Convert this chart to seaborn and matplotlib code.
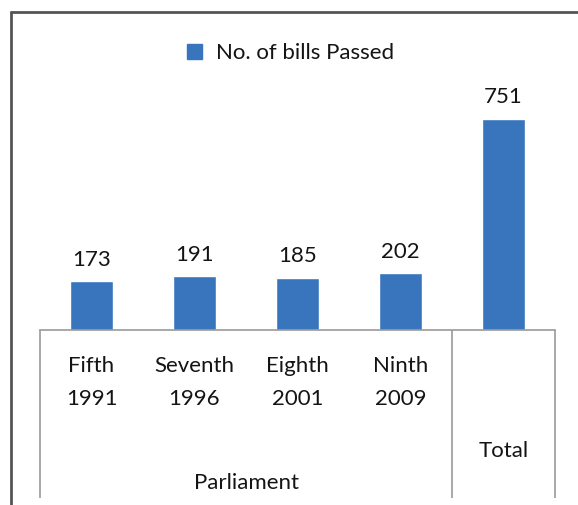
import matplotlib
matplotlib.use("Agg")
import matplotlib.pyplot as plt
import matplotlib.transforms as mtransforms
from matplotlib.lines import Line2D
import pandas as pd
import seaborn as sns

# Data
parliaments = ["Fifth", "Seventh", "Eighth", "Ninth", "Total"]
years = ["1991", "1996", "2001", "2009", ""]
bills_passed = [173, 191, 185, 202, 751]
series_name = "No. of bills Passed"
group_label = "Parliament"

df = pd.DataFrame({"parliament": parliaments, "bills": bills_passed})

sns.set_theme(style="white")
plt.rcParams["font.family"] = ["Lato", "DejaVu Sans"]

W, H = 578, 506
fig = plt.figure(figsize=(W / 100, H / 100), dpi=100)
fig.patch.set_facecolor("white")

def fx(px):
    return px / W

def fy(py):
    return 1 - py / H

ymax = 800
ax_left, ax_right, ax_bottom = 40, 555, 331
ax_height_px = 225
ax = fig.add_axes([fx(ax_left), fy(ax_bottom), fx(ax_right - ax_left), ax_height_px / H])

bar_color = "#3875bd"
sns.barplot(data=df, x="parliament", y="bills", color=bar_color, width=0.41,
            saturation=1, ax=ax)
ax.set_xlim(-0.5, len(parliaments) - 0.5)
ax.set_ylim(0, ymax)
ax.set_xlabel("")
ax.set_ylabel("")
ax.set_yticks([])
ax.set_xticks([])
for side in ["top", "right", "left"]:
    ax.spines[side].set_visible(False)
ax.spines["bottom"].set_color("#9a9a9a")
ax.spines["bottom"].set_linewidth(1.2)

fs = 16
text_color = "#141414"

# value labels
for i, v in enumerate(bills_passed):
    ax.annotate(str(v), xy=(i, v), xytext=(0, 12), textcoords="offset points",
                ha="center", va="baseline", fontsize=fs, color=text_color)

# category labels (two levels)
blend = mtransforms.blended_transform_factory(ax.transData, fig.transFigure)
for i, (name, yr) in enumerate(zip(parliaments, years)):
    if yr:
        ax.text(i, fy(366), name, transform=blend, ha="center", va="center",
                fontsize=fs, color=text_color)
        ax.text(i, fy(399), yr, transform=blend, ha="center", va="center",
                fontsize=fs, color=text_color)
    else:
        ax.text(i, fy(451), name, transform=blend, ha="center", va="center",
                fontsize=fs, color=text_color)
ax.text(1.5, fy(483), group_label, transform=blend, ha="center", va="center",
        fontsize=fs, color=text_color)

# category group dividers
for xv in [-0.5, 3.5, 4.5]:
    ax.plot([xv, xv], [fy(ax_bottom), fy(499)], transform=blend, color="#9a9a9a",
            lw=1.2, clip_on=False, solid_capstyle="butt")

# legend
fig.patches.append(plt.Rectangle((fx(187), fy(60)), fx(15), 15 / H, color=bar_color,
                                 transform=fig.transFigure))
fig.text(fx(216), fy(53), series_name, ha="left", va="center", fontsize=fs,
         color=text_color)

# chart frame
frame_kw = dict(color="#555555", lw=2, transform=fig.transFigure)
fig.lines.append(Line2D([fx(11), fx(11)], [fy(13), 0], **frame_kw))
fig.lines.append(Line2D([fx(11), 1], [fy(13), fy(13)], **frame_kw))

fig.savefig("out.png", dpi=100, facecolor="white")
